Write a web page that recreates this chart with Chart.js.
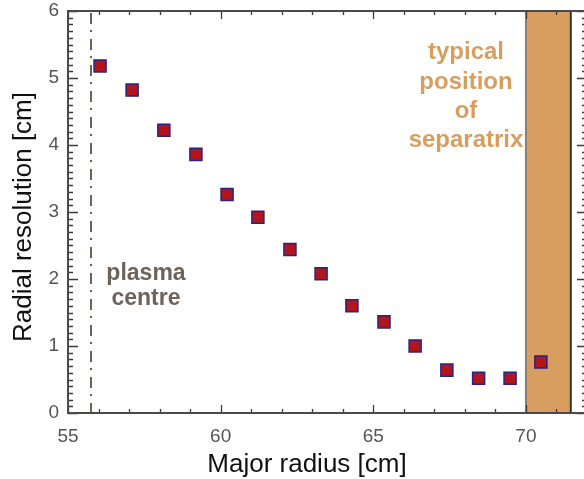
<!DOCTYPE html>
<html><head><meta charset="utf-8">
<script src="https://cdn.jsdelivr.net/npm/chart.js@4.4.0/dist/chart.umd.min.js"></script>
<style>
html,body{margin:0;padding:0;overflow:hidden;background:#fff;width:584px;height:479px}
#wrap{position:relative;width:592px;height:479px}
</style>
</head><body><div id="wrap"><canvas id="c" width="592" height="479"></canvas></div>
<script>
// ---- data ----
const majorRadius = [56.05, 57.10, 58.14, 59.19, 60.21, 61.22, 62.27, 63.29, 64.30, 65.35, 66.37, 67.41, 68.45, 69.48, 70.49];
const radialResolution = [5.18, 4.82, 4.22, 3.86, 3.26, 2.92, 2.44, 2.08, 1.60, 1.36, 1.00, 0.64, 0.52, 0.52, 0.76];
const xTicks = [55, 60, 65, 70];
const yTicks = [0, 1, 2, 3, 4, 5, 6];
const xRange = [55, 72];
const yRange = [0, 6];
const plasmaCentre = 55.75;
const separatrixBand = [70, 71.47];
const xTitle = 'Major radius [cm]';
const yTitle = 'Radial resolution [cm]';
const plasmaLabel = ['plasma', 'centre'];
const separatrixLabel = ['typical', 'position', 'of', 'separatrix'];

const FONT = "'Liberation Sans', Arial, Helvetica, sans-serif";
const AXIS = '#3a3a3a';
const BROWN = '#6e6259';
const ORANGE = '#d79e60';

const points = majorRadius.map((x, i) => ({x, y: radialResolution[i]}));

const decor = {
  id: 'decor',
  beforeDatasetsDraw(chart) {
    const {ctx, chartArea: a, scales: {x, y}} = chart;
    ctx.save();
    const bx0 = x.getPixelForValue(separatrixBand[0]);
    const bx1 = x.getPixelForValue(separatrixBand[1]);
    ctx.fillStyle = ORANGE;
    ctx.fillRect(bx0, a.top, bx1 - bx0, a.bottom - a.top);
    ctx.lineWidth = 2;
    ctx.strokeStyle = '#85807a';
    ctx.beginPath(); ctx.moveTo(bx0, a.top); ctx.lineTo(bx0, a.bottom); ctx.stroke();
    ctx.strokeStyle = '#3a3530';
    ctx.beginPath(); ctx.moveTo(bx1, a.top); ctx.lineTo(bx1, a.bottom); ctx.stroke();
    const px = Math.round(x.getPixelForValue(plasmaCentre));
    ctx.strokeStyle = BROWN;
    ctx.lineWidth = 2;
    ctx.setLineDash([11, 6, 2, 7]);
    ctx.beginPath(); ctx.moveTo(px, a.top + 2); ctx.lineTo(px, a.bottom); ctx.stroke();
    ctx.setLineDash([]);
    ctx.restore();
  },
  afterDatasetsDraw(chart) {
    const {ctx, chartArea: a, scales: {x, y}} = chart;
    ctx.save();
    ctx.strokeStyle = AXIS;
    ctx.lineWidth = 1.3;
    for (let v = Math.ceil(xRange[0]); v <= xRange[1]; v += 1) {
      const p = Math.round(x.getPixelForValue(v)) + 0.5;
      const len = (v % 5 === 0) ? 8 : 4;
      ctx.beginPath();
      ctx.moveTo(p, a.bottom); ctx.lineTo(p, a.bottom - len);
      ctx.moveTo(p, a.top); ctx.lineTo(p, a.top + len);
      ctx.stroke();
    }
    for (let k = yRange[0] * 10; k <= yRange[1] * 10; k++) {
      const p = Math.round(y.getPixelForValue(k / 10)) + 0.5;
      const len = (k % 10 === 0) ? 10 : 5;
      ctx.beginPath();
      ctx.moveTo(a.left, p); ctx.lineTo(a.left + len, p);
      ctx.moveTo(a.right, p); ctx.lineTo(a.right - len, p);
      ctx.stroke();
    }
    ctx.lineWidth = 2;
    ctx.strokeStyle = '#4a4a4a';
    ctx.strokeRect(a.left, a.top, a.right - a.left, a.bottom - a.top);
    ctx.restore();
  },
  afterDraw(chart) {
    const {ctx} = chart;
    ctx.save();
    ctx.textAlign = 'center';
    ctx.textBaseline = 'alphabetic';
    ctx.fillStyle = '#111';
    ctx.font = '26px ' + FONT;
    ctx.fillText(xTitle, 307, 472);
    ctx.save();
    ctx.translate(31, 217);
    ctx.rotate(-Math.PI / 2);
    ctx.fillText(yTitle, 0, 0);
    ctx.restore();
    ctx.font = 'bold 23px ' + FONT;
    ctx.fillStyle = BROWN;
    const pb = [280, 305];
    plasmaLabel.forEach((t, i) => ctx.fillText(t, 146, pb[i]));
    ctx.font = 'bold 24px ' + FONT;
    ctx.fillStyle = ORANGE;
    const sb = [59, 89, 118, 147];
    separatrixLabel.forEach((t, i) => ctx.fillText(t, 466, sb[i]));
    ctx.restore();
  }
};

new Chart(document.getElementById('c'), {
  type: 'scatter',
  data: {
    datasets: [{
      data: points,
      pointStyle: 'rect',
      pointRadius: 8.5,
      pointHoverRadius: 8.5,
      backgroundColor: '#b3151d',
      borderColor: '#2b2280',
      borderWidth: 1.5
    }]
  },
  options: {
    responsive: false,
    devicePixelRatio: 1,
    animation: false,
    events: [],
    layout: {autoPadding: false, padding: {top: 11, right: 5, left: 0, bottom: 0}},
    plugins: {legend: {display: false}, tooltip: {enabled: false}},
    scales: {
      x: {
        type: 'linear',
        min: xRange[0], max: xRange[1],
        afterBuildTicks: s => { s.ticks = xTicks.map(v => ({value: v})); },
        afterFit: s => { s.height = 66; s.paddingLeft = 0; s.paddingRight = 0; s.paddingTop = 0; s.paddingBottom = 0; },
        grid: {display: false, drawTicks: false},
        border: {display: false},
        ticks: {
          padding: 12,
          color: '#555',
          font: {family: FONT, size: 19},
          maxRotation: 0,
          callback: v => String(v)
        }
      },
      y: {
        type: 'linear',
        min: yRange[0], max: yRange[1],
        afterBuildTicks: s => { s.ticks = yTicks.map(v => ({value: v})); },
        afterFit: s => { s.width = 68; s.paddingLeft = 0; s.paddingRight = 0; s.paddingTop = 0; s.paddingBottom = 0; },
        grid: {display: false, drawTicks: false},
        border: {display: false},
        ticks: {
          padding: 9,
          color: '#555',
          font: {family: FONT, size: 19},
          callback: v => String(v)
        }
      }
    }
  },
  plugins: [decor]
});
</script>
</body></html>
